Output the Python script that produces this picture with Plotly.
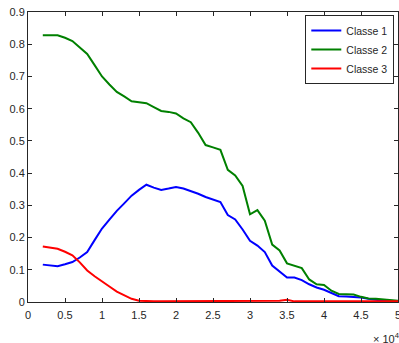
import plotly.graph_objects as go

x_vals = [0.2, 0.3, 0.4, 0.5, 0.6, 0.7, 0.8, 0.9, 1.0, 1.1, 1.2, 1.3, 1.4, 1.5, 1.6, 1.7,
          1.8, 1.9, 2.0, 2.1, 2.2, 2.3, 2.4, 2.5, 2.6, 2.7, 2.8, 2.9, 3.0, 3.1, 3.2, 3.3,
          3.4, 3.5, 3.6, 3.7, 3.8, 3.9, 4.0, 4.1, 4.2, 4.3, 4.4, 4.5, 4.6, 4.7, 4.8, 4.9, 5.0]

classe1 = [0.116, 0.113, 0.111, 0.117, 0.124, 0.138, 0.155, 0.192, 0.228, 0.256, 0.283, 0.306,
           0.330, 0.348, 0.364, 0.355, 0.348, 0.352, 0.357, 0.352, 0.345, 0.336, 0.326, 0.318,
           0.310, 0.270, 0.256, 0.225, 0.190, 0.175, 0.155, 0.113, 0.095, 0.076, 0.076, 0.068,
           0.055, 0.045, 0.038, 0.028, 0.018, 0.017, 0.016, 0.014, 0.010, 0.006, 0.004, 0.003, 0.002]

classe2 = [0.828, 0.828, 0.828, 0.820, 0.810, 0.790, 0.770, 0.735, 0.700, 0.675, 0.652, 0.638,
           0.623, 0.620, 0.617, 0.605, 0.593, 0.590, 0.585, 0.570, 0.558, 0.525, 0.487, 0.480,
           0.472, 0.410, 0.393, 0.360, 0.272, 0.285, 0.252, 0.178, 0.160, 0.120, 0.113, 0.105,
           0.070, 0.055, 0.053, 0.035, 0.025, 0.025, 0.023, 0.016, 0.011, 0.010, 0.008, 0.006, 0.004]

classe3 = [0.172, 0.169, 0.165, 0.156, 0.145, 0.123, 0.098, 0.080, 0.065, 0.048, 0.032, 0.020,
           0.010, 0.004, 0.002, 0.002, 0.002, 0.002, 0.002, 0.002, 0.002, 0.002, 0.002, 0.002,
           0.002, 0.002, 0.002, 0.002, 0.004, 0.003, 0.002, 0.002, 0.004, 0.007, 0.002, 0.002,
           0.002, 0.002, 0.002, 0.002, 0.002, 0.002, 0.002, 0.002, 0.002, 0.002, 0.002, 0.002, 0.002]

series = [("Classe 1", classe1, "#0000ff"),
          ("Classe 2", classe2, "#008000"),
          ("Classe 3", classe3, "#ff0000")]

x_ticks = [0, 0.5, 1, 1.5, 2, 2.5, 3, 3.5, 4, 4.5, 5]
x_ticktext = ["0", "0.5", "1", "1.5", "2", "2.5", "3", "3.5", "4", "4.5", "5"]
y_ticks = [0, 0.1, 0.2, 0.3, 0.4, 0.5, 0.6, 0.7, 0.8, 0.9]
y_ticktext = ["0", "0.1", "0.2", "0.3", "0.4", "0.5", "0.6", "0.7", "0.8", "0.9"]

fig = go.Figure()
for name, vals, color in series:
    fig.add_trace(go.Scatter(x=x_vals, y=vals, mode="lines", name=name,
                             line=dict(color=color, width=2)))

font = dict(family="Liberation Sans, Arial, sans-serif", size=11, color="#262626")

fig.update_layout(
    width=399, height=343,
    margin=dict(l=28, r=1, t=12, b=41, autoexpand=False),
    paper_bgcolor="white", plot_bgcolor="white",
    font=font,
    showlegend=True,
    legend=dict(x=0.99, y=0.99, xanchor="right", yanchor="top",
                bordercolor="#262626", borderwidth=1, bgcolor="white",
                font=dict(family="Liberation Sans, Arial, sans-serif", size=10.5, color="#262626"),
                tracegroupgap=0, itemwidth=30),
    xaxis=dict(range=[0, 5], tickvals=x_ticks, ticktext=x_ticktext, automargin=False,
               ticklabeloverflow="allow", ticklabelstandoff=3,
               showgrid=False, zeroline=False, showline=True, linecolor="#262626",
               linewidth=1, mirror="ticks", ticks="inside", ticklen=4,
               tickcolor="#262626", tickfont=font),
    yaxis=dict(range=[0, 0.9], tickvals=y_ticks, ticktext=y_ticktext, automargin=False,
               showgrid=False, zeroline=False, showline=True, linecolor="#262626",
               linewidth=1, mirror="ticks", ticks="inside", ticklen=4,
               tickcolor="#262626", tickfont=font),
    annotations=[dict(text="\u00d7 10<sup>4</sup>", x=1.01, y=-0.092, xref="paper", yref="paper",
                      xanchor="right", yanchor="top", showarrow=False, font=font)],
)

fig.write_html("out.html", config={"displayModeBar": False},
               post_script="document.body.style.margin='0';document.body.style.overflow='hidden';")
